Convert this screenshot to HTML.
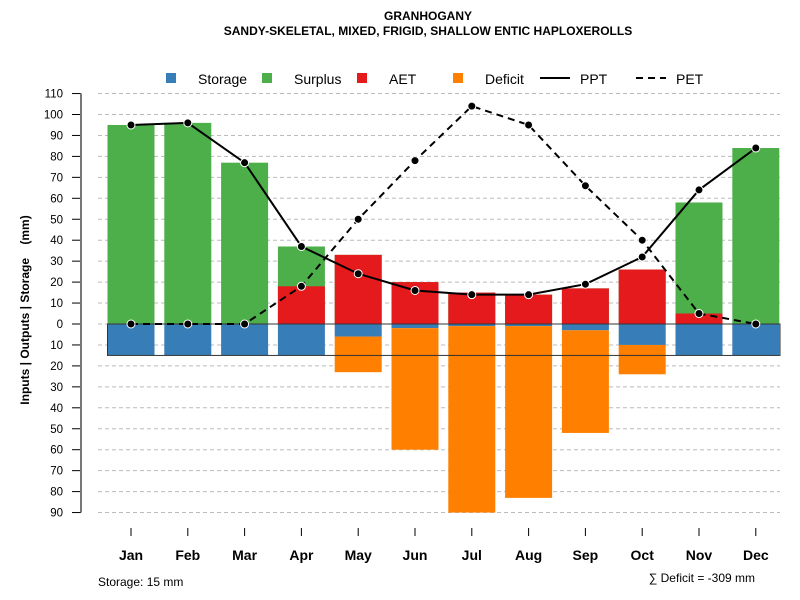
<!DOCTYPE html>
<html><head><meta charset="utf-8"><style>
body{margin:0;background:#fff}
svg{display:block;font-family:"Liberation Sans",Arial,sans-serif}
</style></head><body>
<svg id="c" width="800" height="600" xmlns="http://www.w3.org/2000/svg">
<text x="428" y="20" text-anchor="middle" font-size="12" font-weight="bold">GRANHOGANY</text>
<text x="428" y="35" text-anchor="middle" font-size="12" font-weight="bold">SANDY-SKELETAL, MIXED, FRIGID, SHALLOW ENTIC HAPLOXEROLLS</text>
<g id="grid"></g><g id="bars"></g><g id="lines"></g><g id="axes"></g>
<g font-size="14">
<rect x="166" y="73" width="10" height="10" fill="#377EB8"/>
<text x="198" y="84">Storage</text>
<rect x="262" y="73" width="10" height="10" fill="#4DAF4A"/>
<text x="294" y="84">Surplus</text>
<rect x="357" y="73" width="10" height="10" fill="#E41A1C"/>
<text x="389" y="84">AET</text>
<rect x="453" y="73" width="10" height="10" fill="#FF7F00"/>
<text x="485" y="84">Deficit</text>
<line x1="540" y1="78" x2="570" y2="78" stroke="#000" stroke-width="2"/>
<text x="580" y="84">PPT</text>
<line x1="636" y1="78" x2="666" y2="78" stroke="#000" stroke-width="2" stroke-dasharray="7,5"/>
<text x="676" y="84">PET</text>
</g>
<text transform="translate(29,310) rotate(-90)" text-anchor="middle" font-size="12" font-weight="bold">Inputs | Outputs | Storage&#160;&#160;&#160;&#160;(mm)</text>
<text x="98" y="586" font-size="12">Storage: 15 mm</text>
<text x="755" y="582" text-anchor="end" font-size="12">∑ Deficit = -309 mm</text>
</svg>
<script>
const months=["Jan","Feb","Mar","Apr","May","Jun","Jul","Aug","Sep","Oct","Nov","Dec"];
const ppt=[95,96,77,37,24,16,14,14,19,32,64,84];
const pet=[0,0,0,18,50,78,104,95,66,40,5,0];
const aet=[0,0,0,18,33,20,15,14,17,26,5,0];
const surplus=[95,96,77,19,0,0,0,0,0,0,53,84];
const storage=[15,15,15,15,6,2,1,1,3,10,15,15];
const deficit=[0,0,0,0,17,58,89,82,49,14,0,0];
const yTicks=[110,100,90,80,70,60,50,40,30,20,10,0,-10,-20,-30,-40,-50,-60,-70,-80,-90];
const NS="http://www.w3.org/2000/svg";
const y=v=>324-v*2.095;
const x=i=>131+i*56.8;
const bw=47;
function mk(t,a,p){const e=document.createElementNS(NS,t);for(const k in a)e.setAttribute(k,a[k]);p.appendChild(e);return e;}
const G=document.getElementById('grid'),B=document.getElementById('bars'),L=document.getElementById('lines'),A=document.getElementById('axes');
yTicks.forEach(t=>{
 const g=mk('line',{x1:98,x2:780,y1:y(t),y2:y(t),stroke:'#bbb','stroke-dasharray':'4,3'},G);
 
 
 const tk=mk('line',{x1:72,x2:81,y1:y(t),y2:y(t),stroke:'#000'},A);
 
 
 const tx=mk('text',{x:63,y:y(t)+4,'text-anchor':'end','font-size':11.5},A);
 tx.textContent=Math.abs(t);
 
 
});
const ax=mk('line',{x1:81,x2:81,y1:y(110),y2:y(-90),stroke:'#777','stroke-width':2},A);


months.forEach((m,i)=>{
 const cx=x(i),l=cx-bw/2;
 if(aet[i]+surplus[i]>0){const r=mk('rect',{x:l,y:y(aet[i]+surplus[i]),width:bw,height:(aet[i]+surplus[i])*2.095,fill:'#4DAF4A'},B);
 
 }
 if(aet[i]>0){const r=mk('rect',{x:l,y:y(aet[i]),width:bw,height:aet[i]*2.095,fill:'#E41A1C'},B);
 
 }
 const s=mk('rect',{x:l,y:y(0),width:bw,height:storage[i]*2.095,fill:'#377EB8'},B);
 
 
 if(deficit[i]>0){const r=mk('rect',{x:l,y:y(-storage[i]),width:bw,height:deficit[i]*2.095,fill:'#FF7F00'},B);
 
 }
 const t=mk('line',{x1:cx,x2:cx,y1:528,y2:536,stroke:'#000'},A);
 
 
 const tx=mk('text',{x:cx,y:560,'text-anchor':'middle','font-size':14,'font-weight':'bold'},A);
 tx.textContent=m;
 
 
});
const sr=mk('rect',{x:x(0)-bw/2,y:y(0),width:780-(x(0)-bw/2),height:15*2.095,fill:'none',stroke:'#333','stroke-width':1},B);


const z=mk('line',{x1:x(0)-bw/2,x2:780,y1:y(0),y2:y(0),stroke:'#333'},B);


function series(vals,dash,name){
 const p=mk('polyline',{points:vals.map((v,i)=>x(i)+','+y(v)).join(' '),fill:'none',stroke:'#000','stroke-width':2,'stroke-dasharray':dash},L);
 
 
 vals.forEach((v,i)=>{const c=mk('circle',{cx:x(i),cy:y(v),r:4,fill:'#000',stroke:'#fff','stroke-width':1},L);
 
 });
}
series(pet,'7,5','pet');
series(ppt,'none','ppt');
</script>
</body></html>
